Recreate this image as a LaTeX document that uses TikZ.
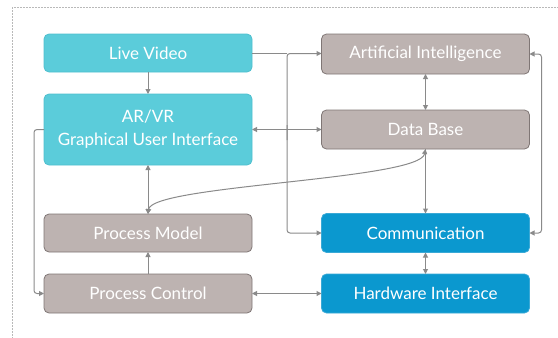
\documentclass[tikz,border=0pt]{standalone}
\usepackage{fontspec}
\setmainfont{Lato}
\usetikzlibrary{arrows.meta}
\definecolor{cyanbox}{HTML}{5BCCDA}
\definecolor{cyanedge}{HTML}{4FBFCE}
\definecolor{greybox}{HTML}{BDB3B1}
\definecolor{greyedge}{HTML}{7F7675}
\definecolor{bluebox}{HTML}{0B98CF}
\definecolor{blueedge}{HTML}{3AA9D6}
\definecolor{wire}{HTML}{8A8A8A}
\begin{document}
\begin{tikzpicture}[x=1pt,y=-1pt,
  box/.style={rounded corners=5pt,minimum width=208pt,inner sep=0pt,outer sep=0pt,
    text=white,font=\fontsize{17}{23}\selectfont,align=center,line width=0.8pt},
  cbox/.style={box,fill=cyanbox,draw=cyanedge},
  gbox/.style={box,fill=greybox,draw=greyedge},
  bbox/.style={box,fill=bluebox,draw=blueedge},
  wire/.style={draw=wire,line width=1pt},
  arr/.style={wire,-{Triangle[length=5pt,width=5pt]}},
  arrb/.style={wire,{Triangle[length=5pt,width=5pt]}-{Triangle[length=5pt,width=5pt]}}]
\useasboundingbox (0,0) rectangle (558,338);
% outer dashed frame
\begin{scope}
\clip (0,0) rectangle (558,338);
\draw[gray!55,line width=0.6pt,dash pattern=on 2pt off 1pt] (12,7) rectangle (575,355);
\end{scope}
% left column
\node[cbox,minimum height=38pt] (lv) at (148,53) {Live Video};
\node[cbox,minimum height=71pt] (gui) at (148,129.5) {AR/VR\\Graphical User Interface};
\node[gbox,minimum height=38pt] (pm) at (148,233) {Process Model};
\node[gbox,minimum height=39pt] (pc) at (148,293.5) {Process Control};
% right column
\node[gbox,minimum height=40pt] (ai) at (425.5,54) {Artificial Intelligence};
\node[gbox,minimum height=39pt] (db) at (425.5,129.5) {Data Base};
\node[bbox,minimum height=39pt] (comm) at (425.5,233) {Communication};
\node[bbox,minimum height=39pt] (hw) at (425.5,293.5) {Hardware Interface};
% bus from the video feed to the right column
\coordinate (bus) at (287,53.5);
\draw[wire] (lv.east |- bus) -- (bus);
\draw[arr,rounded corners=3pt] (287,140) -- (bus) -- (ai.west |- bus);
\draw[arr,rounded corners=3pt] (287,125) |- (comm.west);
% other connectors
\draw[arr] (lv.south) -- (gui.north);
\draw[arrb] (gui.east) -- (db.west);
\draw[arrb] (ai.south) -- (db.north);
\draw[arr] (db.south) -- (comm.north);
\draw[arrb] (pm.north) .. controls (152,185) and (420,180) .. (db.south);
\draw[arrb] (gui.south) -- (pm.north);
\draw[arr] (pc.north) -- (pm.south);
\draw[arrb,rounded corners=3pt] (ai.east) -- ++(12,0) |- (comm.east);
\draw[arrb] (comm.south) -- (hw.north);
\draw[arrb] (pc.east) -- (hw.west);
\draw[arr,rounded corners=3pt] (gui.west) -- ++(-10,0) |- (pc.west);
\end{tikzpicture}
\end{document}
